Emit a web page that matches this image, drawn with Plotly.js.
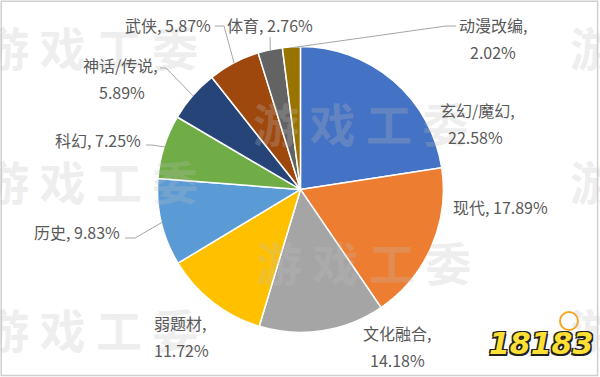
<!DOCTYPE html>
<html>
<head>
<meta charset="utf-8">
<script src="https://cdn.plot.ly/plotly-3.0.1.min.js"></script>
<style>html,body{margin:0;padding:0;background:#fff;}#chart{width:600px;height:377px;}</style>
</head>
<body>
<div id="chart"></div>
<script>
// ---- data ----
const categories = ["玄幻/魔幻", "现代", "文化融合", "弱题材", "历史", "科幻", "神话/传说", "武侠", "体育", "动漫改编"];
const shares = [22.58, 17.89, 14.18, 11.72, 9.83, 7.25, 5.89, 5.87, 2.76, 2.02];

// ---- style / layout ----
const colors = ["#4472C4", "#ED7D31", "#A5A5A5", "#FFC000", "#5B9BD5", "#70AD47", "#264478", "#9E480E", "#636363", "#997300"];
const twoLineLabel = [true, false, true, true, false, false, true, false, false, true];
// label centres in pixels: [nameX, nameY, valueX, valueY] (value only for two-line labels)
const labelPx = [
  [477, 110, 475, 137],
  [500, 207],
  [397, 333, 397, 360],
  [180, 323, 181, 350],
  [77, 232],
  [98, 140],
  [120, 65, 122, 92],
  [168, 25],
  [270, 25],
  [493, 25, 493, 52]
];
// leader line start point and elbow (pixels), null = no leader line
const leaderPx = [
  null, null, null, null,
  [[125, 238], [135, 238]],
  [[146, 145], [152, 145]],
  [[160, 68], [166, 68]],
  [[215, 26], [224, 26]],
  [[270, 37], [270, 37]],
  [[456, 26], [446, 26]]
];

const W = 600, H = 377;
const dom = {x: [0.2625, 0.739], y: [0.118, 0.877]};
const FONT = "Noto Sans CJK SC, Microsoft YaHei, sans-serif";
const TXT = "#595959";

const trace = {
  type: "pie",
  labels: categories,
  values: shares,
  textinfo: "none",
  sort: false,
  direction: "clockwise",
  rotation: 0,
  marker: {colors: colors, line: {color: "#ffffff", width: 1.5}},
  domain: dom,
  hoverinfo: "none"
};

// pie geometry (pixels) from domain
const cx = W * (dom.x[0] + dom.x[1]) / 2;
const cy = H * (1 - (dom.y[0] + dom.y[1]) / 2);
const R = Math.min(W * (dom.x[1] - dom.x[0]), H * (dom.y[1] - dom.y[0])) / 2;
const total = shares.reduce((a, b) => a + b, 0);
const px = (x) => x / W, py = (y) => 1 - y / H;

const annotations = [];
const shapes = [
  {type: "rect", xref: "paper", yref: "paper", x0: 0.002, y0: 0.004, x1: 0.996, y1: 0.997, line: {color: "#d0d0d0", width: 1.5}}
];

// watermarks
const wmFont = {family: FONT, size: 46, color: "rgba(190,190,190,0.25)"};
[[90, 46], [90, 180], [90, 328], [677, 46], [677, 180], [677, 328], [360, 122], [363, 261]].forEach(p => {
  annotations.push({text: "<b>游 戏 工 委</b>", x: px(p[0]), y: py(p[1]), xref: "paper", yref: "paper",
    showarrow: false, font: wmFont, xanchor: "center", yanchor: "middle"});
});

let cum = 0;
categories.forEach((c, i) => {
  const mid = (cum + shares[i] / 2) / total * 2 * Math.PI;
  cum += shares[i];
  const hx = cx + (R - 1) * Math.sin(mid);
  const hy = cy - (R - 1) * Math.cos(mid);
  const pct = shares[i].toFixed(2) + "%";
  const nameText = twoLineLabel[i] ? c + "," : c + ", " + pct;
  const p = labelPx[i];
  annotations.push({
    text: nameText, xref: "paper", yref: "paper", x: px(p[0]), y: py(p[1]),
    showarrow: false, xanchor: "center", yanchor: "middle",
    font: {family: FONT, size: 16, color: TXT}
  });
  if (twoLineLabel[i]) {
    annotations.push({
      text: pct, xref: "paper", yref: "paper", x: px(p[2]), y: py(p[3]),
      showarrow: false, xanchor: "center", yanchor: "middle",
      font: {family: FONT, size: 16, color: TXT}
    });
  }
  const L = leaderPx[i];
  if (L) {
    shapes.push({
      type: "path", xref: "paper", yref: "paper",
      path: "M" + px(L[0][0]) + "," + py(L[0][1]) + " L" + px(L[1][0]) + "," + py(L[1][1]) + " L" + px(hx) + "," + py(hy),
      line: {color: "#a6a6a6", width: 1}
    });
  }
});

// 18183 logo text
annotations.push({text: "<b><i>18183</i></b>", x: px(541), y: py(343), xref: "paper", yref: "paper",
  showarrow: false, xanchor: "center", yanchor: "middle",
  font: {family: "DejaVu Sans, sans-serif", size: 30, color: "#FFE033",
    shadow: "1.5px 1.5px 0 #222, -1.5px -1.5px 0 #222, 1.5px -1.5px 0 #222, -1.5px 1.5px 0 #222"}});
shapes.push({type: "circle", xref: "paper", yref: "paper", x0: px(560), x1: px(578), y0: py(330), y1: py(312),
  line: {color: "#F5A623", width: 2}, fillcolor: "rgba(0,0,0,0)", layer: "below"});

const layout = {
  width: W, height: H,
  margin: {l: 0, r: 0, t: 0, b: 0},
  paper_bgcolor: "#ffffff",
  showlegend: false,
  annotations: annotations,
  shapes: shapes
};

Plotly.newPlot("chart", [trace], layout, {displayModeBar: false, staticPlot: true});
</script>
</body>
</html>
